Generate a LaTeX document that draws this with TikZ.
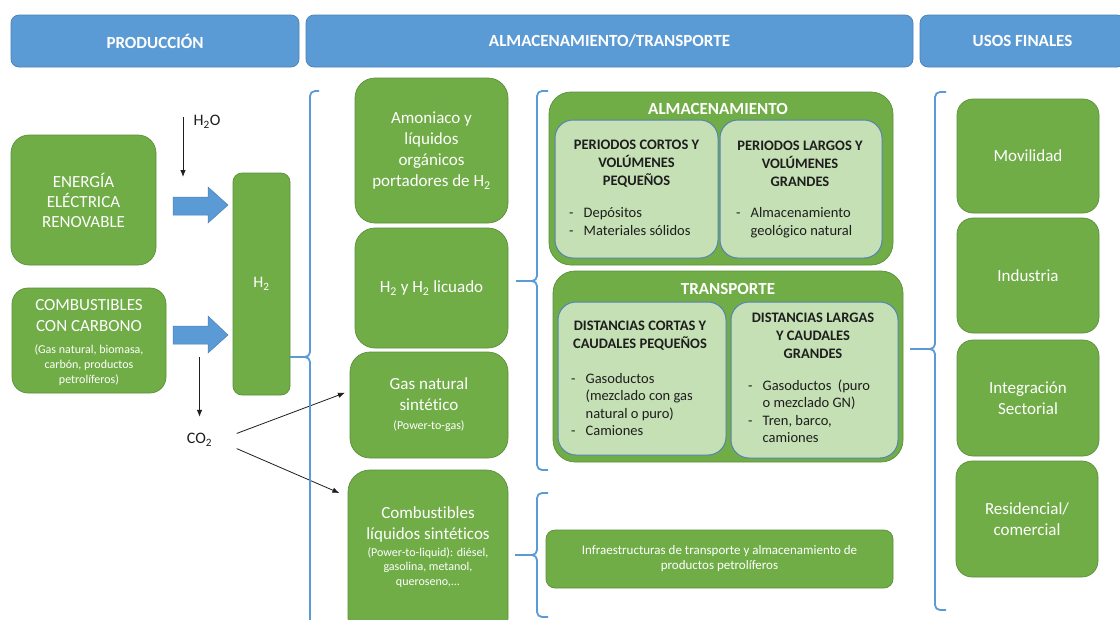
\documentclass[tikz,border=0pt]{standalone}
\usepackage{fontspec}
\setmainfont{Carlito}[Ligatures=NoCommon]
\usetikzlibrary{arrows.meta}
\definecolor{gfill}{HTML}{70AD47}
\definecolor{gdraw}{HTML}{5B8F3A}
\definecolor{lgfill}{HTML}{C5E0B4}
\definecolor{lgdraw}{HTML}{5682B5}
\definecolor{bfill}{HTML}{5B9BD5}
\definecolor{bdraw}{HTML}{4A80B8}
\definecolor{ink}{HTML}{1E1E1E}
\newcommand\setfs[2]{\fontsize{#1}{#2}\selectfont}
\begin{document}
\begin{tikzpicture}[x=1pt,y=-1pt,
  gbox/.style={draw=gdraw, fill=gfill, line width=0.7pt, rounded corners=#1, text=white, align=center, inner sep=0pt, font=\setfs{17}{21}},
  gbox/.default=16pt,
  lbox/.style={draw=lgdraw, fill=lgfill, line width=1pt, rounded corners=18pt, inner sep=0pt},
  hdr/.style={draw=bdraw, fill=bfill, line width=0.7pt, rounded corners=8pt, text=white, font=\bfseries\setfs{17}{20}, inner sep=0pt},
  sub/.style={text=white, font=\bfseries\setfs{17}{20}, inner sep=0pt},
  ttl/.style={align=center, text=ink, font=\bfseries\setfs{14.5}{18}, inner sep=0pt},
  lst/.style={anchor=west, text=ink, font=\setfs{14.5}{17.5}, inner sep=0pt},
  wsm/.style={align=center, text=white, font=\setfs{12}{14.5}, inner sep=0pt},
  wbig/.style={align=center, text=white, font=\setfs{17}{21}, inner sep=0pt},
  lbl/.style={text=ink, font=\setfs{16}{20}, inner sep=0pt},
  brc/.style={draw=bfill, line width=1.8pt},
  arr/.style={draw=ink, line width=0.8pt, -{Latex[length=7pt,width=5.5pt]}},
  blk/.style={fill=bfill, draw=bdraw, line width=0.5pt},
]
\useasboundingbox (0,0) rectangle (1120,619);
\fill[white] (0,0) rectangle (1120,619);

% headers
\node[hdr, minimum width=288pt, minimum height=52pt] (hprod) at (155,41) {PRODUCCIÓN};
\node[hdr, minimum width=607pt, minimum height=52pt] (halm) at (609.5,41) {ALMACENAMIENTO/TRANSPORTE};
\node[hdr, minimum width=205pt, minimum height=52pt] (husos) at (1022.5,41) {USOS FINALES};

% production
\node[gbox=18pt, minimum width=145pt, minimum height=130pt, font=\setfs{17}{20}] (ener) at (83.5,200) {ENERGÍA\\ELÉCTRICA\\RENOVABLE};
\node[gbox=16pt, minimum width=154pt, minimum height=105pt] (comb) at (89,340.5) {};
\node[wbig] (combt) at (89,315.5) {COMBUSTIBLES\\CON CARBONO};
\node[wsm, font=\setfs{12}{15}] (combs) at (89,365) {(Gas natural, biomasa,\\carbón, productos\\petrolíferos)};
\node[gbox=9pt, minimum width=57pt, minimum height=222pt, font=\setfs{16}{20}] (h2) at (261.5,284) {H\textsubscript{2}};

\fill[blk] (173,197) -- (208,197) -- (208,187) -- (228,205) -- (208,223) -- (208,215) -- (173,215) -- cycle;
\fill[blk] (173,326) -- (208,326) -- (208,316) -- (228,335) -- (208,353) -- (208,344) -- (173,344) -- cycle;

\node[lbl] (h2o) at (207,122) {H\textsubscript{2}O};
\coordinate (h2oa) at (183,117);
\coordinate (h2ob) at (183,177);
\draw[arr] (h2oa) -- (h2ob);

\node[lbl, minimum width=74pt, minimum height=24pt] (co2) at (199.5,440) {CO\textsubscript{2}};
\coordinate (co2a) at (199.5,357);
\draw[arr, shorten >=11pt] (co2a) -- (co2.north);

% middle column
\node[gbox=20pt, minimum width=153pt, minimum height=145pt] (amon) at (431.5,150.5) {Amoniaco y\\líquidos\\orgánicos\\portadores de H\textsubscript{2}};
\node[gbox=20pt, minimum width=153pt, minimum height=120pt] (h2liq) at (431.5,288) {H\textsubscript{2} y H\textsubscript{2} licuado};
\node[gbox=20pt, minimum width=158pt, minimum height=106pt] (gas) at (429,405) {};
\node[wbig] (gast) at (429,394.5) {Gas natural\\sintético};
\node[wsm] (gass) at (429,426) {(Power-to-gas)};
\node[gbox=22pt, minimum width=160pt, minimum height=170pt] (cliq) at (428,555) {};
\node[wbig] (cliqt) at (428,524.5) {Combustibles\\líquidos sintéticos};
\node[wsm] (cliqs) at (428,567.5) {(Power-to-liquid): diésel,\\gasolina, metanol,\\queroseno,...};

\draw[arr, shorten >=5pt] (co2.10) -- (gas.170);
\draw[arr, shorten >=9pt] (co2.-13) -- (cliq.144);

% almacenamiento
\node[gbox=22pt, minimum width=344pt, minimum height=173pt] (alm) at (721,178.5) {};
\node[sub] (almt) at (718,109) {ALMACENAMIENTO};
\node[lbox, minimum width=163pt, minimum height=138pt] (almL) at (636.5,189) {};
\node[lbox, minimum width=162pt, minimum height=138pt] (almR) at (801,189) {};
\node[ttl] (almLt) at (636.5,164) {PERIODOS CORTOS Y\\VOLÚMENES\\PEQUEÑOS};
\node[lst, font=\setfs{14.5}{18}] (almLl) at (569,223) {\begin{tabular}{@{}l@{\hspace{10pt}}l@{}}-&Depósitos\\-&Materiales sólidos\end{tabular}};
\node[ttl] (almRt) at (800,164) {PERIODOS LARGOS Y\\VOLÚMENES\\GRANDES};
\node[lst, font=\setfs{14.5}{18}] (almRl) at (736,223) {\begin{tabular}{@{}l@{\hspace{10pt}}l@{}}-&Almacenamiento\\&geológico natural\end{tabular}};

% transporte
\node[gbox=22pt, minimum width=350pt, minimum height=191pt] (tra) at (728,366.5) {};
\node[sub] (trat) at (728,289) {TRANSPORTE};
\node[lbox, minimum width=168pt, minimum height=153pt] (traL) at (642,378.5) {};
\node[lbox, minimum width=167pt, minimum height=156pt] (traR) at (814.5,380) {};
\node[ttl] (traLt) at (640,336) {DISTANCIAS CORTAS Y\\CAUDALES PEQUEÑOS};
\node[lst] (traLl) at (571,406) {\begin{tabular}{@{}l@{\hspace{10pt}}l@{}}-&Gasoductos\\&(mezclado con gas\\&natural o puro)\\-&Camiones\end{tabular}};
\node[ttl] (traRt) at (813,336) {DISTANCIAS LARGAS\\Y CAUDALES\\GRANDES};
\node[lst] (traRl) at (748,413) {\begin{tabular}{@{}l@{\hspace{10pt}}l@{}}-&Gasoductos\ \ (puro\\&o mezclado GN)\\-&Tren, barco,\\&camiones\end{tabular}};

\node[gbox=9pt, minimum width=347pt, minimum height=58pt, font=\setfs{13}{15}] (infra) at (719.5,559) {Infraestructuras de transporte y almacenamiento de\\productos petrolíferos};

% usos finales
\node[gbox=16pt, minimum width=142pt, minimum height=114pt] (mov) at (1028,156) {Movilidad};
\node[gbox=16pt, minimum width=142pt, minimum height=115pt] (ind) at (1028,275.5) {Industria};
\node[gbox=16pt, minimum width=142pt, minimum height=116pt] (integ) at (1028,398) {Integración\\Sectorial};
\node[gbox=16pt, minimum width=142pt, minimum height=116pt] (res) at (1027,519) {Residencial/\\comercial};

% braces
\draw[brc, rounded corners=5pt] (319,91) -- (310,91) -- (310,357) -- (305,357);
\draw[brc, rounded corners=5pt] (319,660) -- (310,660) -- (310,357) -- (305,357);
\coordinate (b1) at (305,357);
\draw[brc] (b1 -| h2.east) -- (b1);

\draw[brc, rounded corners=5pt] (548,91) -- (537,91) -- (537,281) -- (532,281);
\draw[brc, rounded corners=5pt] (548,470) -- (537,470) -- (537,281) -- (532,281);
\coordinate (b2) at (532,281);
\draw[brc, shorten <=8pt] (b2 -| h2liq.east) -- (b2);

\draw[brc, rounded corners=5pt] (548,493) -- (537,493) -- (537,555) -- (532,555);
\draw[brc, rounded corners=5pt] (548,617) -- (537,617) -- (537,555) -- (532,555);
\coordinate (b3) at (532,555);
\draw[brc, shorten <=7pt] (b3 -| cliq.east) -- (b3);

\draw[brc, rounded corners=5pt] (946,92) -- (935,92) -- (935,349) -- (930,349);
\draw[brc, rounded corners=5pt] (946,610) -- (935,610) -- (935,349) -- (930,349);
\coordinate (b4) at (930,349);
\draw[brc, shorten <=7pt] (b4 -| tra.east) -- (b4);
\end{tikzpicture}
\end{document}
